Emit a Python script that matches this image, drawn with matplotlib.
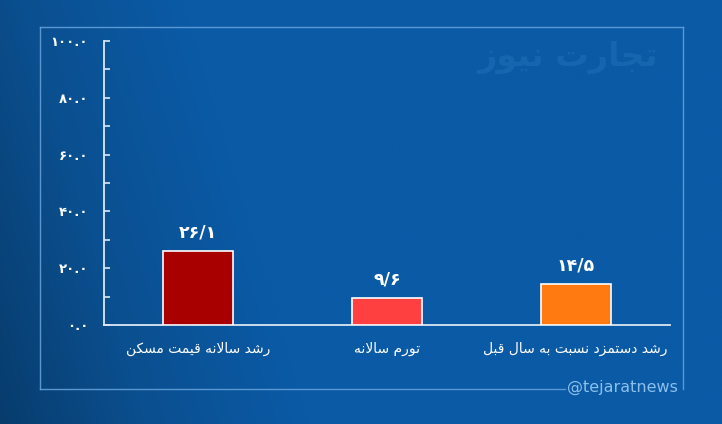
import numpy as np
import matplotlib
matplotlib.use("Agg")
import matplotlib.pyplot as plt
from matplotlib.lines import Line2D
from matplotlib.colors import to_rgb

# ---------------- data ----------------
categories = ["رشد سالانه قیمت مسکن", "تورم سالانه", "رشد دستمزد نسبت به سال قبل"]
values = [26.1, 9.6, 14.5]
value_labels = ["۲۶/۱", "۹/۶", "۱۴/۵"]
bar_colors = ["#a80000", "#ff4040", "#ff7a10"]
y_ticks = [0, 20, 40, 60, 80, 100]
y_tick_labels = ["۰.۰", "۲۰.۰", "۴۰.۰", "۶۰.۰", "۸۰.۰", "۱۰۰.۰"]
watermark = "تجارت نیوز"
handle = "@tejaratnews"

# ------------- minimal Persian shaping -------------
FORMS = {
    '\u0627': ('\uFE8D', '\uFE8E', None, None),
    '\u0628': ('\uFE8F', '\uFE90', '\uFE91', '\uFE92'),
    '\u062A': ('\uFE95', '\uFE96', '\uFE97', '\uFE98'),
    '\u062C': ('\uFE9D', '\uFE9E', '\uFE9F', '\uFEA0'),
    '\u062F': ('\uFEA9', '\uFEAA', None, None),
    '\u0631': ('\uFEAD', '\uFEAE', None, None),
    '\u0632': ('\uFEAF', '\uFEB0', None, None),
    '\u0633': ('\uFEB1', '\uFEB2', '\uFEB3', '\uFEB4'),
    '\u0634': ('\uFEB5', '\uFEB6', '\uFEB7', '\uFEB8'),
    '\u0642': ('\uFED5', '\uFED6', '\uFED7', '\uFED8'),
    '\u06A9': ('\uFB8E', '\uFB8F', '\uFB90', '\uFB91'),
    '\u0644': ('\uFEDD', '\uFEDE', '\uFEDF', '\uFEE0'),
    '\u0645': ('\uFEE1', '\uFEE2', '\uFEE3', '\uFEE4'),
    '\u0646': ('\uFEE5', '\uFEE6', '\uFEE7', '\uFEE8'),
    '\u0647': ('\uFEE9', '\uFEEA', '\uFEEB', '\uFEEC'),
    '\u0648': ('\uFEED', '\uFEEE', None, None),
    '\u06CC': ('\uFBFC', '\uFBFD', '\uFBFE', '\uFBFF'),
}


def shape(text):
    out = []
    i = 0
    n = len(text)
    prev_joins = False
    while i < n:
        c = text[i]
        if c not in FORMS:
            out.append(c)
            prev_joins = False
            i += 1
            continue
        nxt = text[i + 1] if i + 1 < n else None
        if c == '\u0644' and nxt == '\u0627':
            out.append('\uFEFC' if prev_joins else '\uFEFB')
            prev_joins = False
            i += 2
            continue
        iso, fin, ini, med = FORMS[c]
        can_next = ini is not None and nxt in FORMS
        if prev_joins and can_next:
            out.append(med)
        elif prev_joins:
            out.append(fin)
        elif can_next:
            out.append(ini)
        else:
            out.append(iso)
        prev_joins = can_next
        i += 1
    return ''.join(reversed(out))


# ---------------- figure ----------------
W, H = 722, 424
fig = plt.figure(figsize=(W / 100, H / 100), dpi=100)

# background gradient
bg = fig.add_axes([0, 0, 1, 1])
bg.set_axis_off()
xx, yy = np.meshgrid(np.linspace(0, 1, 300), np.linspace(0, 1, 200))
dark = np.array(to_rgb("#073a69"))
mid = np.array(to_rgb("#0b4f8f"))
light = np.array(to_rgb("#0a5aa6"))
t = np.clip((xx * 2.0 + (1 - yy) * 0.35 + 0.05) / 0.9, 0, 1)[..., None]
img = np.where(t < 0.5, dark + (mid - dark) * (t / 0.5), mid + (light - mid) * ((t - 0.5) / 0.5))
bg.imshow(img, extent=[0, 1, 0, 1], aspect='auto', origin='upper')
bg.set_xlim(0, 1)
bg.set_ylim(0, 1)

# frame
fc = "#64a0da"
def fx(px):
    return px / W
def fy(py):
    return 1 - py / H
frame_lines = [
    ((40, 27), (683, 27)),
    ((40, 27), (40, 389)),
    ((683, 27), (683, 389)),
    ((40, 389), (565, 389)),
]
for (x0, y0), (x1, y1) in frame_lines:
    fig.add_artist(Line2D([fx(x0), fx(x1)], [fy(y0), fy(y1)], color=fc, lw=1.0, alpha=0.9))

fig.text(fx(622), fy(387), handle, color="#8cbfea", fontsize=11.5,
         ha='center', va='center', family='DejaVu Sans')

# watermark
fig.text(fx(568), fy(57), shape(watermark), color="#2f7bc2", alpha=0.35,
         fontsize=24, fontweight='bold', ha='center', va='center', family='DejaVu Sans')

# main axes
ax = fig.add_axes([104 / W, 1 - 325 / H, (670 - 104) / W, (325 - 41) / H])
ax.patch.set_alpha(0)
x = np.arange(len(categories))
ax.bar(x, values, width=0.37, color=bar_colors, edgecolor='white', linewidth=1.2, zorder=3)
ax.set_xlim(-0.5, len(categories) - 0.5)
ax.set_ylim(0, 100)

for sp in ['top', 'right']:
    ax.spines[sp].set_visible(False)
for sp in ['left', 'bottom']:
    ax.spines[sp].set_color('#dbe7f3')
    ax.spines[sp].set_linewidth(1.3)

ax.set_yticks(y_ticks)
ax.set_yticklabels(y_tick_labels, family='DejaVu Sans', fontweight='bold')
ax.set_yticks(np.arange(10, 100, 20), minor=True)
ax.tick_params(axis='y', which='both', direction='in', length=4, width=1.2,
               color='#dbe7f3', labelcolor='white', labelsize=9.5, pad=11.5)
ax.set_xticks(x)
ax.set_xticklabels([shape(c) for c in categories], family='DejaVu Sans')
ax.tick_params(axis='x', length=0, labelcolor='white', labelsize=10, pad=12)

for xi, v, lab in zip(x, values, value_labels):
    ax.annotate(lab, (xi, v), xytext=(0, 7), textcoords='offset points',
                ha='center', va='bottom', color='white', fontsize=12.5,
                fontweight='bold', family='DejaVu Sans')

fig.savefig("out.png", dpi=100)
